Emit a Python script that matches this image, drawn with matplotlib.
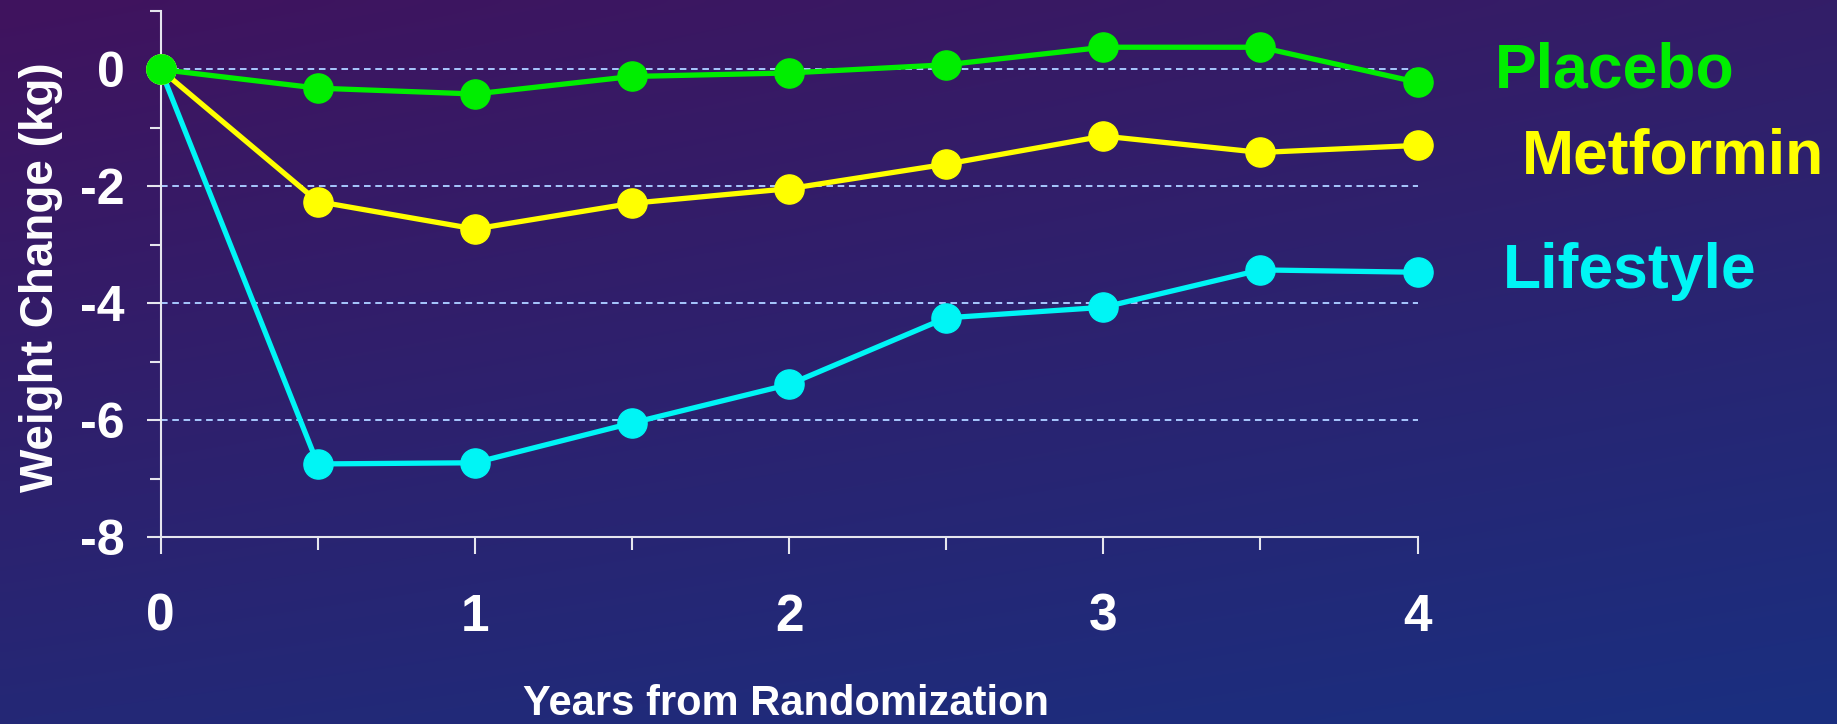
import numpy as np
import matplotlib
matplotlib.use("Agg")
import matplotlib.pyplot as plt
from matplotlib.ticker import MultipleLocator

plt.rcParams["axes.unicode_minus"] = False

years = [0, 0.5, 1, 1.5, 2, 2.5, 3, 3.5, 4]
placebo = [0, -0.32, -0.42, -0.12, -0.06, 0.08, 0.38, 0.38, -0.22]
metformin = [0, -2.26, -2.73, -2.29, -2.04, -1.62, -1.14, -1.42, -1.30]
lifestyle = [0, -6.75, -6.73, -6.05, -5.39, -4.25, -4.07, -3.43, -3.47]

series = [("Lifestyle", lifestyle, "#00f5f5"),
          ("Metformin", metformin, "#ffff00"),
          ("Placebo", placebo, "#00ee00")]

narrow = ["Liberation Sans Narrow", "Liberation Sans", "DejaVu Sans"]
wide = ["Liberation Sans", "DejaVu Sans"]

fig = plt.figure(figsize=(18.37, 7.24), dpi=100)

# background gradient (purple top-left -> blue bottom-right)
bg = fig.add_axes([0, 0, 1, 1], zorder=-10)
tl = np.array([0x40, 0x13, 0x5e]) / 255
tr = np.array([0x33, 0x1e, 0x68]) / 255
bl = np.array([0x24, 0x28, 0x76]) / 255
br = np.array([0x1a, 0x2f, 0x80]) / 255
u = np.linspace(0, 1, 200)[None, :, None]
v = np.linspace(0, 1, 100)[:, None, None]
img = (1 - v) * ((1 - u) * tl + u * tr) + v * ((1 - u) * bl + u * br)
bg.imshow(img, aspect="auto", extent=[0, 1, 0, 1], interpolation="bicubic")
bg.axis("off")

ax = fig.add_axes([0.0874, 0.2583, 0.6843, 0.7265])
ax.patch.set_alpha(0)

for name, vals, col in series:
    ax.plot(years, vals, color=col, lw=3.8, marker="o", ms=21,
            clip_on=False, zorder=3)

ax.set_xlim(0, 4)
ax.set_ylim(-8, 1)
ax.xaxis.set_major_locator(MultipleLocator(1))
ax.xaxis.set_minor_locator(MultipleLocator(0.5))
ax.set_yticks([-8, -6, -4, -2, 0])
ax.set_yticks([-7, -5, -3, -1, 1], minor=True)

for s in ["top", "right"]:
    ax.spines[s].set_visible(False)
for s in ["left", "bottom"]:
    ax.spines[s].set_color("#e6e6ee")
    ax.spines[s].set_linewidth(1.5)

ax.tick_params(axis="y", which="major", length=10, width=1.5, color="#e6e6ee",
               pad=16, labelcolor="white", labelsize=36)
ax.tick_params(axis="y", which="minor", length=8, width=1.5, color="#e6e6ee")
ax.tick_params(axis="x", which="major", length=12, width=1.5, color="#e6e6ee",
               pad=28, labelcolor="white", labelsize=37)
ax.tick_params(axis="x", which="minor", length=9, width=1.5, color="#e6e6ee")
for lab in ax.get_xticklabels() + ax.get_yticklabels():
    lab.set_family(narrow)
    lab.set_fontweight("bold")

ax.yaxis.grid(True, which="major", color="#a8c8ff", lw=1.4,
              linestyle=(0, (3.4, 2.4)), zorder=1)
ax.set_axisbelow(True)

fig.text(0.0225, 0.617, "Weight Change (kg)", rotation=90, ha="center",
         va="center", color="white", fontsize=33, fontweight="bold", family=wide)
fig.text(0.428, 0.012, "Years from Randomization", ha="center", va="baseline",
         color="white", fontsize=30, fontweight="bold", family=narrow)

fig.text(0.8138, 0.8785, "Placebo", color="#00ee00", fontsize=45,
         fontweight="bold", family=wide, va="baseline")
fig.text(0.8285, 0.761, "Metformin", color="#ffff00", fontsize=45,
         fontweight="bold", family=wide, va="baseline")
fig.text(0.8182, 0.602, "Lifestyle", color="#00f5f5", fontsize=45,
         fontweight="bold", family=wide, va="baseline")

fig.savefig("out.png", dpi=100)
